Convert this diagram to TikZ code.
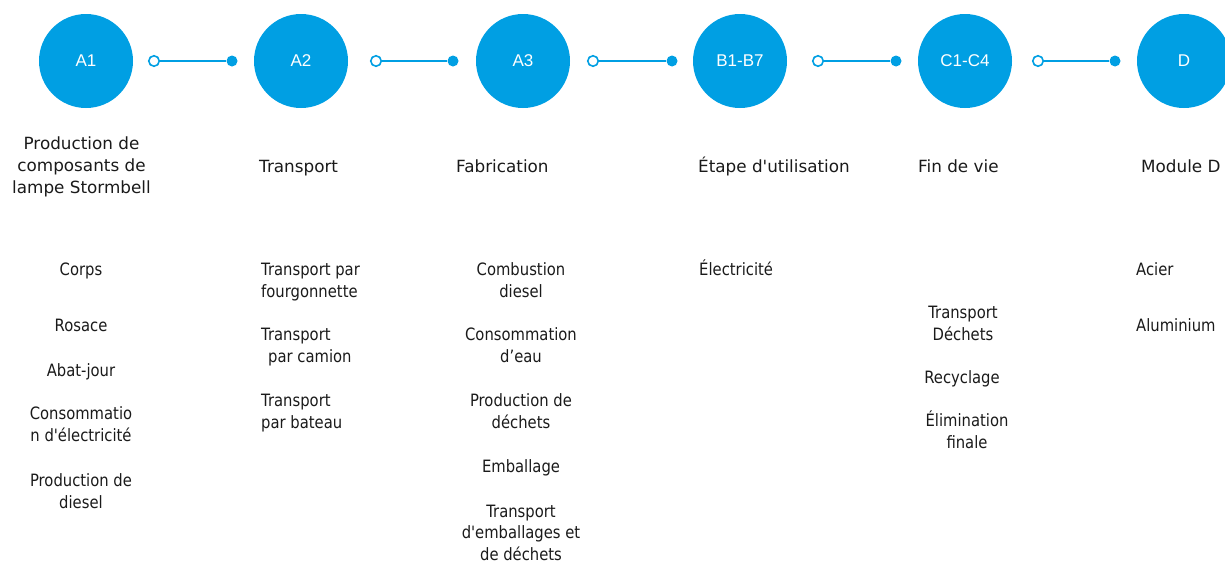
\documentclass[tikz,border=0pt]{standalone}
\usepackage{fontspec}
\newfontfamily\circfont{Liberation Sans}
\newfontfamily\catfamily{DejaVu Sans}
\newfontfamily\itemfamily[FakeStretch=0.87]{DejaVu Sans}
\definecolor{lcablue}{RGB}{0,159,227}
\definecolor{inktext}{RGB}{26,26,26}
\begin{document}
\begin{tikzpicture}[x=1pt,y=-1pt,
  stage/.style={circle,fill=lcablue,minimum size=94pt,inner sep=0pt,text=white,
    font=\circfont\fontsize{17}{20}\selectfont},
  opendot/.style={circle,draw=lcablue,line width=1.6pt,fill=white,minimum size=10.5pt,inner sep=0pt},
  fulldot/.style={circle,fill=lcablue,minimum size=11pt,inner sep=0pt},
  link/.style={draw=lcablue,line width=2pt},
  phase/.style={font=\catfamily\fontsize{16.8}{22}\selectfont,inner sep=0pt,text=inktext},
  item/.style={font=\itemfamily\fontsize{17}{21.5}\selectfont,inner sep=0pt,text=inktext},
]
\useasboundingbox (0,0) rectangle (1225,563);
\clip (0,0) rectangle (1225,563);

% life-cycle stages
\node[stage] (s1) at (86,61)   {A1};
\node[stage] (s2) at (301,61)  {A2};
\node[stage] (s3) at (523,61)  {A3};
\node[stage] (s4) at (740,61)  {B1-B7};
\node[stage] (s5) at (965,61)  {C1-C4};
\node[stage] (s6) at (1184,61) {D};

% connectors between stages
\node[opendot] (o1) at (154,61)  {};
\node[fulldot] (f1) at (232,61)  {};
\node[opendot] (o2) at (376,61)  {};
\node[fulldot] (f2) at (453,61)  {};
\node[opendot] (o3) at (593,61)  {};
\node[fulldot] (f3) at (672,61)  {};
\node[opendot] (o4) at (818,61)  {};
\node[fulldot] (f4) at (896,61)  {};
\node[opendot] (o5) at (1038,61) {};
\node[fulldot] (f5) at (1115,61) {};
\foreach \i in {1,...,5} \draw[link] (o\i) -- (f\i);

% stage titles (base = baseline of the last line)
\node[phase,align=center,anchor=base] (p1) at (81.5,193) {Production de\\composants de\\lampe Stormbell};
\node[phase,anchor=base west] (p2) at (259,172)  {Transport};
\node[phase,anchor=base west] (p3) at (456,172)  {Fabrication};
\node[phase,anchor=base west] (p4) at (698,172)  {Étape d'utilisation};
\node[phase,anchor=base west] (p5) at (918,172)  {Fin de vie};
\node[phase,anchor=base west] (p6) at (1141,172) {Module D};

% A1 items
\node[item,align=center,anchor=base] (a11) at (81,275) {Corps};
\node[item,align=center,anchor=base] (a12) at (81,331) {Rosace};
\node[item,align=center,anchor=base] (a13) at (81,376) {Abat-jour};
\node[item,align=center,anchor=base] (a14) at (81,441) {Consommatio\\n d'électricité};
\node[item,align=center,anchor=base] (a15) at (81,508) {Production de\\diesel};

% A2 items
\node[item,align=left,anchor=base west] (a21) at (261,297) {Transport par\\fourgonnette};
\node[item,align=left,anchor=base west] (a22) at (261,362) {Transport\\\hspace*{7pt}par camion};
\node[item,align=left,anchor=base west] (a23) at (261,428) {Transport\\par bateau};

% A3 items
\node[item,align=center,anchor=base] (a31) at (521,297) {Combustion\\diesel};
\node[item,align=center,anchor=base] (a32) at (521,362) {Consommation\\d’eau};
\node[item,align=center,anchor=base] (a33) at (521,428) {Production de\\déchets};
\node[item,align=center,anchor=base] (a34) at (521,472) {Emballage};
\node[item,align=center,anchor=base] (a35) at (521,560) {Transport\\d'emballages et\\de déchets};

% B items
\node[item,anchor=base west] (b1) at (699,275) {Électricité};

% C items
\node[item,align=center,anchor=base] (c1) at (963,340) {Transport\\Déchets};
\node[item,align=center,anchor=base] (c2) at (962,383) {Recyclage};
\node[item,align=center,anchor=base] (c3) at (967,448) {Élimination\\finale};

% D items
\node[item,anchor=base west] (d1) at (1136,275) {Acier};
\node[item,anchor=base west] (d2) at (1136,331) {Aluminium};
\end{tikzpicture}
\end{document}
